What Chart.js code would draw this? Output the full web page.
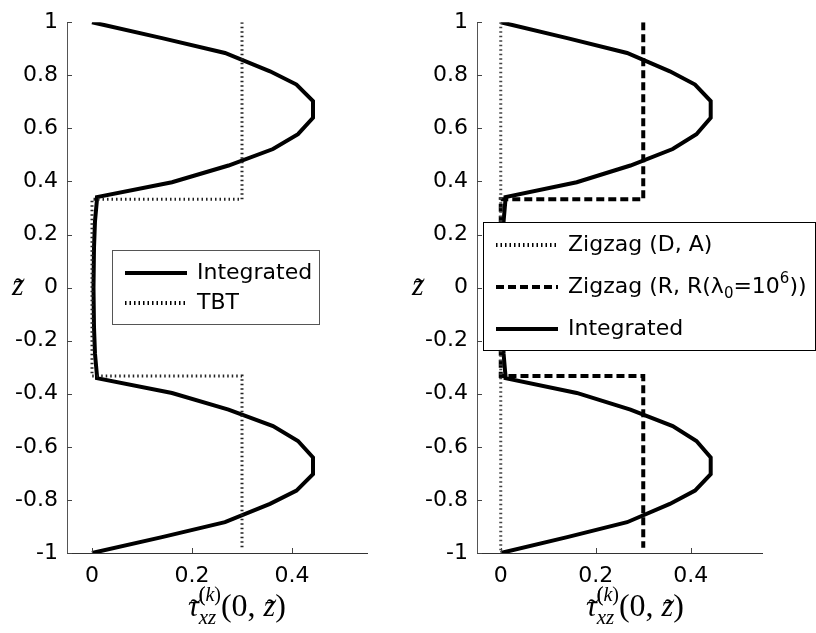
<!DOCTYPE html>
<html lang="en">
<head>
    <meta charset="UTF-8">
    <title>Shear stress profiles</title>
    <script src="https://cdn.jsdelivr.net/npm/chart.js"></script>
    <style>
        body { margin: 0; background: #fff; }
        #wrap { position: relative; width: 816px; height: 633px; }
        .panel { position: absolute; top: 0; height: 633px; }
    </style>
</head>
<body>

<div id="wrap">
    <div class="panel" style="left:0;width:400px"><canvas id="leftChart"></canvas></div>
    <div class="panel" style="left:400px;width:416px"><canvas id="rightChart"></canvas></div>
</div>

<script>
    // through-thickness coordinate and stress values
    const zIntegrated = [1, 0.94, 0.884, 0.815, 0.765, 0.703, 0.64, 0.578, 0.522, 0.46, 0.397, 0.341,
        0.333, 0.25, 0.15, 0, -0.15, -0.25, -0.333,
        -0.341, -0.397, -0.46, -0.522, -0.578, -0.64, -0.703, -0.765, -0.815, -0.884, -0.94, -1];
    const tauIntegrated = [0, 0.14, 0.266, 0.356, 0.409, 0.442, 0.442, 0.412, 0.362, 0.273, 0.16, 0.01,
        0.01, 0.006, 0.004, 0.003, 0.004, 0.006, 0.01,
        0.01, 0.16, 0.273, 0.362, 0.412, 0.442, 0.442, 0.409, 0.356, 0.266, 0.14, 0];

    const zStep = [1, 0.333, 0.333, -0.333, -0.333, -0.98];
    const tauTBT = [0.3, 0.3, 0, 0, 0.3, 0.3];
    const tauZigzagR = [0.3, 0.3, 0, 0, 0.3, 0.3];

    const zZigzagD = [1, -1];
    const tauZigzagD = [0, 0];

    const xTicks = [0, 0.2, 0.4];
    const yTicks = [-1, -0.8, -0.6, -0.4, -0.2, 0, 0.2, 0.4, 0.6, 0.8, 1];

    const FONT = 'DejaVu Sans';
    const DOTTED = [1.5, 3];
    const DASHED = [8, 4];

    function pts(xs, ys) {
        return xs.map((x, i) => ({ x: x, y: ys[i] }));
    }

    function series(label, xs, ys, dash, color, width) {
        return {
            label: label,
            data: pts(xs, ys),
            showLine: true,
            borderColor: color,
            borderWidth: width,
            borderDash: dash,
            pointRadius: 0,
            tension: 0,
            fill: false
        };
    }

    // draws a sequence of text pieces (some italic / shifted) left to right
    function drawPieces(ctx, x, y, pieces) {
        pieces.forEach(p => {
            ctx.font = (p.italic ? 'italic ' : '') + p.size + 'px "Liberation Serif"';
            const px = p.x !== undefined ? x + p.x : x;
            ctx.fillText(p.t, px, y + (p.dy || 0));
            const w = ctx.measureText(p.t).width;
            if (p.tilde) {
                ctx.font = p.size + 'px "Liberation Serif"';
                ctx.textAlign = 'center';
                ctx.fillText('\u02DC', px + w / 2 + 2, y + 3);
                ctx.textAlign = 'left';
            }
            if (!p.keep) x = px + w;
        });
    }

    function axisLabels(ctx, area, xLabelLeft) {
        ctx.save();
        ctx.fillStyle = '#000';
        ctx.textBaseline = 'alphabetic';
        ctx.textAlign = 'left';
        drawPieces(ctx, xLabelLeft, 616, [
            { t: 'τ', italic: true, size: 30, tilde: true },
            { t: '(', size: 20, dy: -15, keep: true },
            { t: 'xz', italic: true, size: 21, dy: 8, keep: true, x: 0 },
            { t: '(', size: 20, dy: -15 },
            { t: 'k', italic: true, size: 20, dy: -15 },
            { t: ')', size: 20, dy: -15 },
            { t: '(0, ', size: 32 },
            { t: 'z', italic: true, size: 30, tilde: true },
            { t: ')', size: 32 }
        ]);
        ctx.restore();
    }

    function drawLegendLine(ctx, x1, x2, y, dash, width) {
        ctx.save();
        ctx.strokeStyle = '#000';
        ctx.lineWidth = width;
        ctx.setLineDash(dash);
        ctx.beginPath();
        ctx.moveTo(x1, y);
        ctx.lineTo(x2, y);
        ctx.stroke();
        ctx.restore();
    }

    const decorPlugin = {
        id: 'decor',
        afterDraw(chart, args, opts) {
            const ctx = chart.ctx;
            const xs = chart.scales.x, ys = chart.scales.y;
            const area = chart.chartArea;

            // inward tick marks like the original
            ctx.save();
            ctx.strokeStyle = '#444';
            ctx.lineWidth = 1;
            ctx.beginPath();
            xTicks.forEach(v => {
                const px = Math.round(xs.getPixelForValue(v)) + 0.5;
                ctx.moveTo(px, area.bottom);
                ctx.lineTo(px, area.bottom - 5);
            });
            yTicks.forEach(v => {
                const py = Math.round(ys.getPixelForValue(v)) + 0.5;
                ctx.moveTo(area.left, py);
                ctx.lineTo(area.left + 5, py);
            });
            ctx.stroke();
            ctx.restore();

            // y axis label
            ctx.save();
            ctx.fillStyle = '#000';
            drawPieces(ctx, opts.zLabelX, 295, [{ t: 'z', italic: true, size: 30, tilde: true }]);
            ctx.restore();

            axisLabels(ctx, area, opts.xLabelLeft);

            // legend box
            const L = opts.legend;
            ctx.save();
            ctx.fillStyle = '#fff';
            ctx.fillRect(L.x, L.y, L.w, L.h);
            ctx.strokeStyle = L.border;
            ctx.lineWidth = 1;
            ctx.strokeRect(L.x + 0.5, L.y + 0.5, L.w - 1, L.h - 1);
            ctx.restore();

            L.items.forEach((it, i) => {
                const y = L.y + L.first + i * L.gap;
                drawLegendLine(ctx, L.x + 13, L.x + 75, y, it.dash, 4);
                ctx.save();
                ctx.fillStyle = '#000';
                ctx.textBaseline = 'middle';
                ctx.textAlign = 'left';
                let x = L.x + 85;
                it.text.forEach(seg => {
                    const size = seg.s ? 15 : 22;
                    ctx.font = size + 'px "' + FONT + '"';
                    ctx.fillText(seg.t, x, y + (seg.s || 0));
                    x += ctx.measureText(seg.t).width;
                });
                ctx.restore();
            });
        }
    };

    function makeScales(yWidth) {
        const tickFont = { family: FONT, size: 22 };
        return {
            x: {
                type: 'linear',
                min: -0.05,
                max: 0.55,
                afterBuildTicks: s => { s.ticks = xTicks.map(v => ({ value: v })); },
                afterFit: s => { s.height = 80; },
                ticks: { font: tickFont, color: '#000', padding: 10, maxRotation: 0, callback: v => String(v) },
                grid: { display: false, drawTicks: false },
                border: { display: true, color: '#333', width: 1 }
            },
            y: {
                type: 'linear',
                min: -1,
                max: 1,
                afterBuildTicks: s => { s.ticks = yTicks.map(v => ({ value: v })); },
                afterFit: s => { s.width = yWidth; },
                ticks: { font: tickFont, color: '#000', padding: 9, callback: v => String(v) },
                grid: { display: false, drawTicks: false },
                border: { display: true, color: '#555', width: 1 }
            }
        };
    }

    function baseOptions(yWidth, rightPad, decor) {
        return {
            responsive: true,
            maintainAspectRatio: false,
            animation: false,
            layout: { padding: { top: 19, right: rightPad, left: 0, bottom: 0 } },
            plugins: { legend: { display: false }, tooltip: { enabled: false }, decor: decor },
            scales: makeScales(yWidth)
        };
    }

    new Chart(document.getElementById('leftChart'), {
        type: 'scatter',
        data: {
            datasets: [
                series('TBT', tauTBT, zStep, DOTTED, '#222', 3),
                series('Integrated', tauIntegrated, zIntegrated, [], '#000', 4)
            ]
        },
        options: baseOptions(67, 33, {
            zLabelX: 12,
            xLabelLeft: 188,
            legend: {
                x: 112, y: 250, w: 208, h: 75, border: '#555', first: 23, gap: 30,
                items: [
                    { dash: [], text: [{ t: 'Integrated' }] },
                    { dash: DOTTED, text: [{ t: 'TBT' }] }
                ]
            }
        }),
        plugins: [decorPlugin]
    });

    new Chart(document.getElementById('rightChart'), {
        type: 'scatter',
        data: {
            datasets: [
                series('Zigzag (D, A)', tauZigzagD, zZigzagD, DOTTED, '#444', 3),
                series('Zigzag (R, R(λ0=10^6))', tauZigzagR, zStep, DASHED, '#000', 4),
                series('Integrated', tauIntegrated, zIntegrated, [], '#000', 4)
            ]
        },
        options: baseOptions(77, 54, {
            zLabelX: 12,
            xLabelLeft: 186,
            legend: {
                x: 83, y: 222, w: 333, h: 129, border: '#000', first: 23, gap: 42,
                items: [
                    { dash: DOTTED, text: [{ t: 'Zigzag (D, A)' }] },
                    { dash: DASHED, text: [{ t: 'Zigzag (R, R(λ' }, { t: '0', s: 7 }, { t: '=10' }, { t: '6', s: -8 }, { t: '))' }] },
                    { dash: [], text: [{ t: 'Integrated' }] }
                ]
            }
        }),
        plugins: [decorPlugin]
    });
</script>
</body>
</html>
